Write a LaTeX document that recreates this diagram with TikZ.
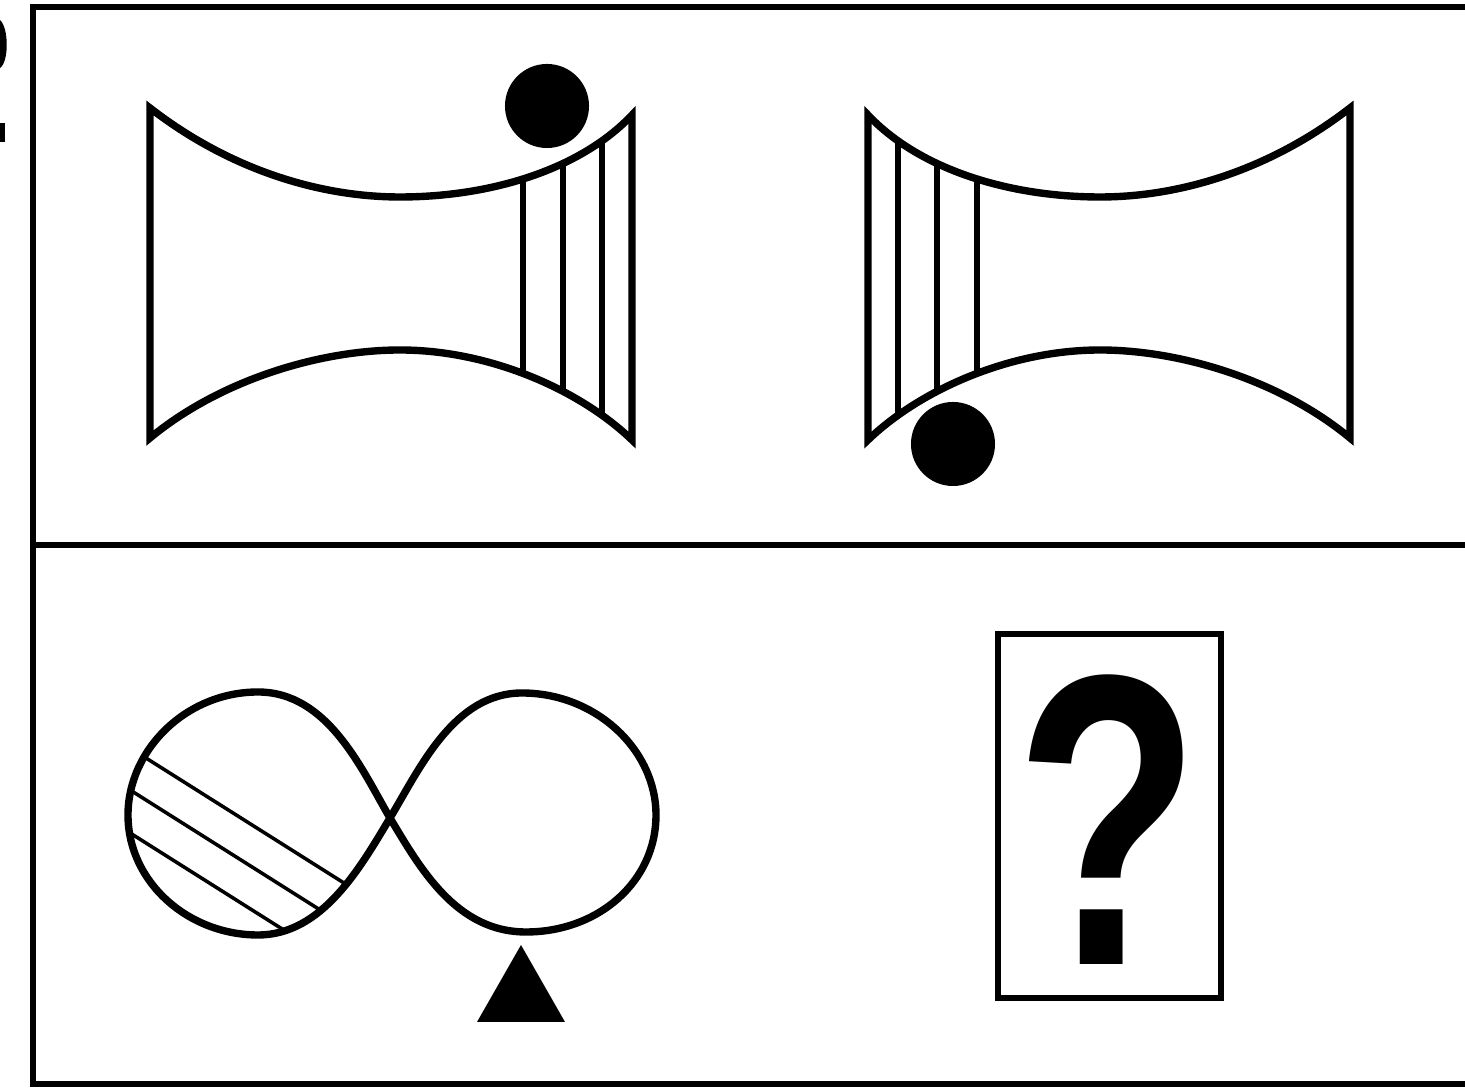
\documentclass[tikz,border=0pt]{standalone}
\usepackage{fontspec}
\usepackage{graphicx}
\newfontfamily\qfont{Liberation Sans}

% outline of the spool shape (left one; the right one is mirrored)
\newcommand{\spoolpath}{(150,108) .. controls (230,170) and (320,197) .. (400,197)
  .. controls (490,197) and (580,170) .. (632,115) -- (632,440)
  .. controls (580,390) and (490,350) .. (400,350)
  .. controls (320,350) and (220,380) .. (150,438) -- cycle}

\newcommand{\leftloop}{(390,818) .. controls (362,770) and (328,692) .. (258,692)
  .. controls (186,692) and (128,750) .. (128,815)
  .. controls (128,882) and (188,935) .. (258,935)
  .. controls (322,935) and (360,868) .. (390,818)}

\begin{document}
\begin{tikzpicture}[
  x=0.01cm, y=-0.01cm,
  frameline/.style={line width=1.9pt, line cap=rect},
  outline/.style={line width=2.1pt},
  hatch/.style={line width=1.6pt},
  thinhatch/.style={line width=1.0pt},
  ball/.style={circle, fill=black, minimum size=0.84cm, inner sep=0pt},
  qbox/.style={draw, line width=1.6pt, minimum width=2.23cm, minimum height=3.64cm, inner sep=0pt}
]
\useasboundingbox (0,0) rectangle (1465,1092);

% cut-off marks at the left edge
\fill (0,20) .. controls (9,28) and (9,62) .. (0,68) -- cycle;
\fill (0,123) rectangle (5,142);

% frame
\draw[frameline] (1465,7) -- (33,7) -- (33,1084) -- (1465,1084);
\draw[frameline] (33,545) -- (1465,545);

% top row: two spools
\begin{scope}
  \clip \spoolpath;
  \foreach \hx in {523,563,602}
    \draw[hatch] (\hx,100) -- (\hx,460);
\end{scope}
\draw[outline] \spoolpath;
\node[ball] (ballA) at (547,106) {};

\begin{scope}[shift={(1500,0)}, xscale=-1]
  \begin{scope}
    \clip \spoolpath;
    \foreach \hx in {523,563,602}
      \draw[hatch] (\hx,100) -- (\hx,460);
  \end{scope}
  \draw[outline] \spoolpath;
\end{scope}
\node[ball] (ballB) at (953,444) {};

% bottom row: infinity loop and triangle
\begin{scope}
  \clip \leftloop;
  \foreach \hy in {729,771,814}
    \draw[thinhatch] (100,\hy) -- (420,\hy+202);
\end{scope}
\draw[outline] \leftloop
  .. controls (420,768) and (454,693) .. (522,693)
  .. controls (596,693) and (656,750) .. (656,815)
  .. controls (656,882) and (598,932) .. (526,932)
  .. controls (456,932) and (420,868) .. (390,818);
\fill (521,945) -- (565,1022) -- (477,1022) -- cycle;

% answer box
\node[qbox] (answer) at (1109.5,816) {};
\node[anchor=base, inner sep=0pt] (qmark) at (1108,965)
  {\scalebox{0.73}[1]{\qfont\bfseries\fontsize{118pt}{118pt}\selectfont ?}};

\end{tikzpicture}
\end{document}
